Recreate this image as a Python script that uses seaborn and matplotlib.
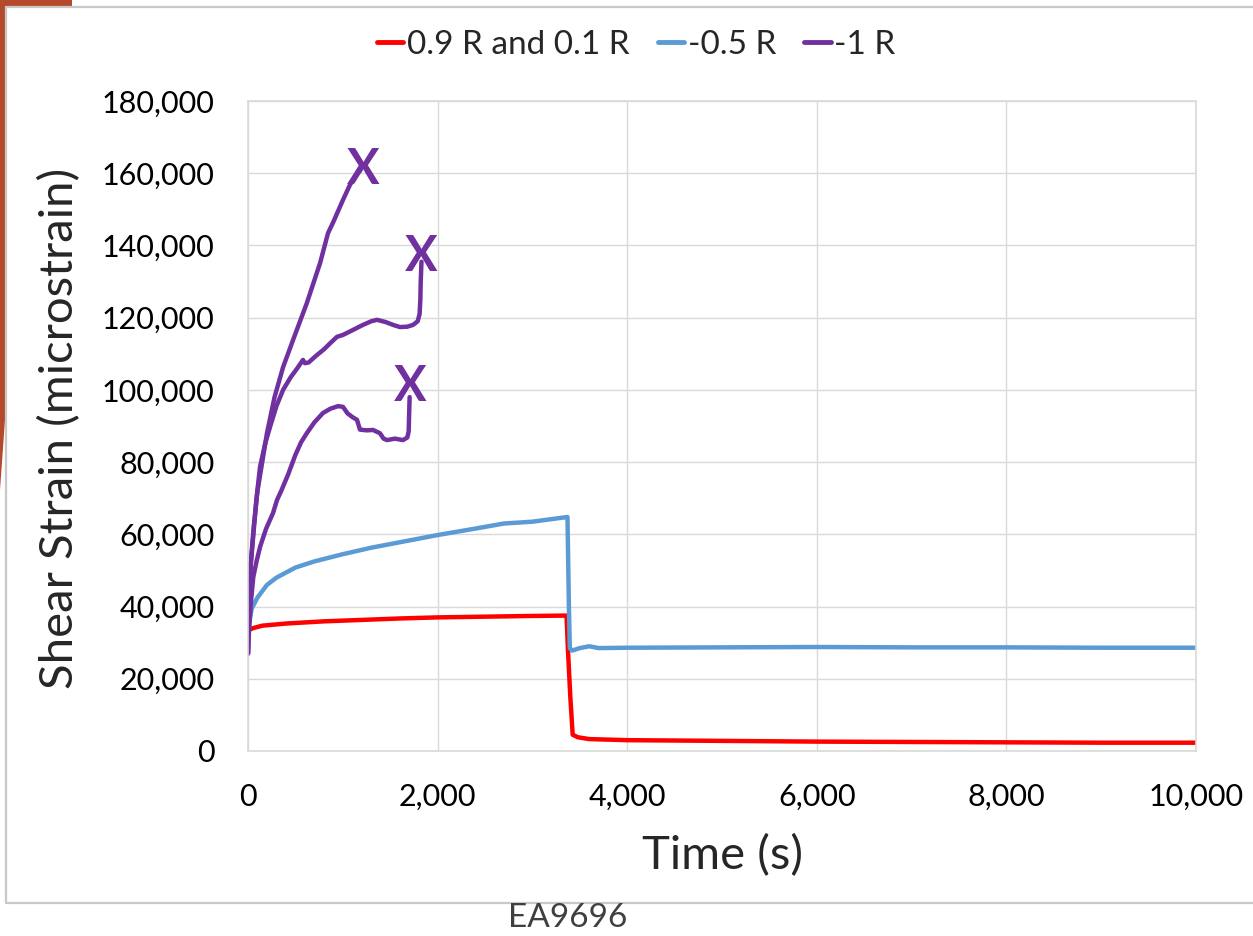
import numpy as np
import pandas as pd
import matplotlib
matplotlib.use("Agg")
import matplotlib.pyplot as plt
import matplotlib.patches as mpatches
from matplotlib.lines import Line2D
import matplotlib.ticker as mticker
import seaborn as sns

# ---------------- data ----------------
red_t = [0, 10, 50, 150, 400, 800, 1200, 1600, 2000, 2500, 3000, 3360,
         3375, 3400, 3425, 3480, 3600, 4000, 5000, 6000, 7000, 8000, 9000, 10000]
red_y = [32500, 33500, 34000, 34700, 35300, 35900, 36300, 36700, 37000, 37200, 37400, 37500,
         28000, 15000, 4500, 3800, 3300, 3000, 2800, 2600, 2500, 2400, 2300, 2300]

blue_t = [0, 15, 40, 100, 200, 300, 500, 700, 1000, 1300, 1600, 2000, 2400, 2700, 3000,
          3200, 3370, 3385, 3395, 3420, 3500, 3600, 3700, 4000, 5000, 6000, 7000, 8000,
          9000, 10000]
blue_y = [31000, 36000, 39500, 42500, 46000, 48000, 50800, 52500, 54500, 56300, 57800,
          59800, 61600, 63000, 63500, 64200, 64800, 40000, 28500, 27800, 28500, 29000,
          28500, 28600, 28700, 28800, 28700, 28700, 28600, 28600]

purA_t = [0, 5, 15, 30, 60, 100, 150, 200, 280, 370, 475, 620, 760, 844, 900, 1000, 1076,
          1150, 1185]
purA_y = [27000, 38000, 46000, 52000, 62000, 72000, 80000, 88000, 98000, 106300, 113800,
          124000, 135100, 143400, 146500, 152500, 156800, 159800, 160800]

purB_t = [0, 5, 15, 30, 60, 90, 127, 180, 232, 300, 370, 450, 520, 580, 600, 640, 720, 800,
          870, 939, 1000, 1100, 1213, 1300, 1361, 1450, 1530, 1603, 1680, 1741, 1790, 1810,
          1818, 1822, 1830]
purB_y = [27000, 37000, 45000, 52000, 61000, 70000, 78700, 85000, 89700, 95500, 100000,
          103500, 106000, 108300, 107400, 107600, 109500, 111200, 113000, 114700, 115200,
          116500, 118000, 119000, 119400, 118800, 118000, 117400, 117500, 118000, 119000,
          121000, 125000, 130000, 135500]

purC_t = [0, 10, 30, 56, 90, 127, 190, 264, 306, 350, 422, 500, 560, 620, 700, 791, 870, 950,
          1002, 1050, 1100, 1150, 1181, 1250, 1319, 1392, 1430, 1466, 1550, 1635, 1680,
          1695, 1700, 1705]
purC_y = [27000, 33000, 41000, 48200, 52500, 56500, 61500, 65900, 69500, 72000, 76500,
          82000, 85500, 88000, 91000, 93600, 94800, 95500, 95300, 93500, 92500, 91700,
          89000, 88800, 88900, 88000, 86500, 86100, 86500, 86100, 86800, 88500, 93600, 98000]

# failure points (marked with an "X")
fail_t = [1213, 1832, 1709]
fail_y = [161000, 136900, 100900]

series_names = ["0.9 R and 0.1 R", "-0.5 R", "-1 R"]
series_colors = ["#FF0000", "#5B9BD5", "#7030A0"]
x_ticks = [0, 2000, 4000, 6000, 8000, 10000]
y_ticks = list(range(0, 180001, 20000))

# ---------------- build long-form table ----------------
frames = []
for name, unit, t, y in [
    (series_names[0], "r", red_t, red_y),
    (series_names[1], "b", blue_t, blue_y),
    (series_names[2], "pA", purA_t, purA_y),
    (series_names[2], "pB", purB_t, purB_y),
    (series_names[2], "pC", purC_t, purC_y),
]:
    frames.append(pd.DataFrame({"Time": t, "Strain": y, "Series": name, "Unit": unit}))
df = pd.concat(frames, ignore_index=True)

# ---------------- figure ----------------
sns.set_style("whitegrid", {"grid.color": "#D9D9D9", "axes.edgecolor": "#D9D9D9"})
plt.rcParams["font.family"] = ["Lato", "DejaVu Sans"]

W, H = 1253, 936
fig = plt.figure(figsize=(W / 100, H / 100), dpi=100)

# slide decoration: frame and brown corner
fig.add_artist(Line2D([6 / W, 6 / W], [1 - 7 / H, 1 - 903 / H], color="#C8C8C8", lw=1.6,
                      transform=fig.transFigure))
fig.add_artist(Line2D([6 / W, 1.0], [1 - 7 / H, 1 - 7 / H], color="#C8C8C8", lw=1.6,
                      transform=fig.transFigure))
fig.add_artist(Line2D([6 / W, 1.0], [1 - 903 / H, 1 - 903 / H], color="#C8C8C8", lw=1.6,
                      transform=fig.transFigure))
corner = [(0, 0), (72, 0), (72, 6), (5, 6), (5, 420), (0, 490)]
fig.add_artist(mpatches.Polygon([(x / W, 1 - y / H) for x, y in corner], closed=True,
                                facecolor="#B5492C", edgecolor="none",
                                transform=fig.transFigure))

ax = fig.add_axes([248 / W, 1 - 751 / H, (1196 - 248) / W, (751 - 101) / H])
sns.lineplot(data=df, x="Time", y="Strain", hue="Series", units="Unit", estimator=None,
             sort=False, palette=dict(zip(series_names, series_colors)),
             hue_order=series_names, linewidth=3.2, ax=ax)
for ln in ax.lines:
    ln.set_solid_joinstyle("round")
    ln.set_solid_capstyle("round")

for t, y in zip(fail_t, fail_y):
    ax.text(t, y, "X", color=series_colors[2], fontsize=35, ha="center", va="center",
            fontweight="bold")

ax.set_xlim(0, 10000)
ax.set_ylim(0, 180000)
ax.set_xticks(x_ticks)
ax.set_yticks(y_ticks)
fmt = mticker.FuncFormatter(lambda v, p: f"{int(v):,}")
ax.xaxis.set_major_formatter(fmt)
ax.yaxis.set_major_formatter(fmt)
ax.tick_params(axis="both", length=0, labelsize=22, colors="black")
ax.tick_params(axis="y", pad=24)
ax.tick_params(axis="x", pad=23)
for s in ax.spines.values():
    s.set_color("#D9D9D9")
    s.set_linewidth(1.2)
ax.grid(True, color="#D9D9D9", linewidth=1.0)

ax.set_xlabel("Time (s)", fontsize=34)
ax.set_ylabel("Shear Strain (microstrain)", fontsize=34)
ax.xaxis.set_label_coords(0.5, -0.128)
ax.yaxis.set_label_coords(-0.176, 0.497)

handles, labels = ax.get_legend_handles_labels()
for h in handles:
    h.set_linewidth(3.5)
ax.legend(handles, labels, loc="center", bbox_to_anchor=(636 / W, 1 - 45 / H),
          bbox_transform=fig.transFigure, ncol=3, frameon=False, fontsize=24,
          handlelength=0.8, handletextpad=0.1, columnspacing=0.85)

fig.text(568 / W, 1 - 918 / H, "EA9696", color="#404040", fontsize=24, ha="center",
         va="center")

fig.savefig("out.png", dpi=100)
